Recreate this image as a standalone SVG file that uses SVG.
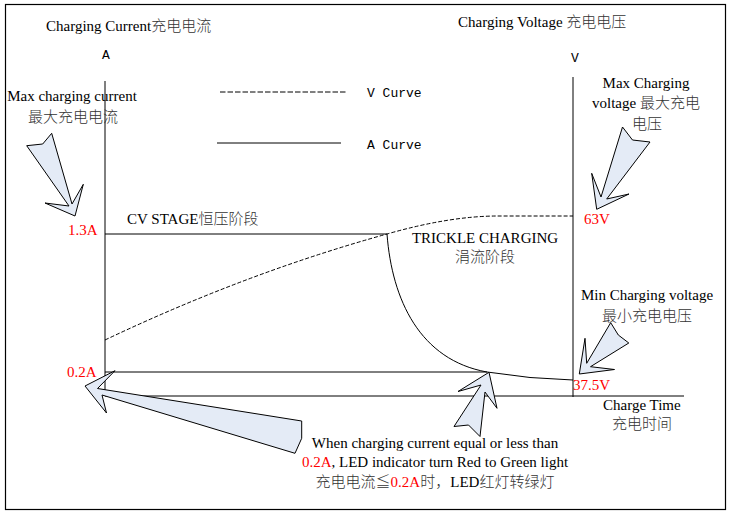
<svg xmlns="http://www.w3.org/2000/svg" width="733" height="514" viewBox="0 0 733 514">
<style>
.t{font-family:"Liberation Serif","Noto Sans CJK SC",serif;font-size:15px;fill:#000}
.c{font-family:"Noto Sans CJK SC",sans-serif;font-weight:300;fill:#333}
.r{fill:#FF0000}
.m{font-family:"Liberation Mono","DejaVu Sans Mono",monospace;font-size:13px;fill:#000}
.ax{stroke:#000;stroke-width:1;fill:none}
.dash{stroke:#000;stroke-width:1;fill:none;stroke-dasharray:4,2}
.call{fill:#E4EBF6;stroke:#000;stroke-width:1;stroke-linejoin:miter}
</style>
<rect x="0" y="0" width="733" height="514" fill="#fff"/>
<rect x="5.5" y="4.5" width="720" height="505" fill="none" stroke="#000" stroke-width="1.2"/>

<g id="axes">
<line class="ax" x1="105" y1="81" x2="105" y2="396"/>
<line class="ax" x1="573" y1="77" x2="573" y2="397"/>
<line class="ax" x1="105" y1="396" x2="684" y2="396"/>
<text class="m" x="102" y="59">A</text>
<text class="m" x="571" y="62">V</text>
<text class="t" x="46" y="31">Charging Current<tspan class="c">充电电流</tspan></text>
<text class="t" x="458" y="27">Charging Voltage <tspan class="c">充电电压</tspan></text>
<text class="t" x="603" y="410">Charge Time</text>
<text class="t c" x="642" y="429" text-anchor="middle">充电时间</text>
</g>

<g id="legend">
<line class="ax" x1="220" y1="92" x2="347" y2="92" stroke-dasharray="5.5,2"/>
<text class="m" x="367" y="97">V Curve</text>
<line class="ax" x1="217" y1="143" x2="341" y2="143"/>
<text class="m" x="367" y="149">A Curve</text>
</g>

<g id="v-curve">
<path class="dash" d="M105,340 Q246,273 387,234 Q450,216 498,216 L573,216" stroke-dasharray="3,1.5"/>
</g>

<g id="a-curve">
<path class="ax" d="M105,234 L387,234 C392,300 420,360 487,372 Q530,379 573,380"/>
<line class="ax" x1="105" y1="372" x2="487" y2="372"/>
</g>

<g id="labels">
<text class="t r" x="68" y="235">1.3A</text>
<text class="t r" x="67" y="377">0.2A</text>
<text class="t r" x="584" y="224">63V</text>
<text class="t r" x="573" y="390">37.5V</text>
<text class="t" x="127" y="224">CV STAGE<tspan class="c">恒压阶段</tspan></text>
<text class="t" x="485" y="243" text-anchor="middle">TRICKLE CHARGING</text>
<text class="t c" x="485" y="262" text-anchor="middle">涓流阶段</text>
</g>

<g id="note-max-current">
<text class="t" x="72" y="101" text-anchor="middle">Max charging current</text>
<text class="t c" x="73" y="122" text-anchor="middle">最大充电电流</text>
</g>

<g id="note-max-voltage">
<text class="t" x="646" y="88" text-anchor="middle">Max Charging</text>
<text class="t" x="646" y="108" text-anchor="middle">voltage <tspan class="c">最大充电</tspan></text>
<text class="t c" x="647" y="129" text-anchor="middle">电压</text>
</g>

<g id="note-min-voltage">
<text class="t" x="647" y="300" text-anchor="middle">Min Charging voltage</text>
<text class="t c" x="647" y="321" text-anchor="middle">最小充电电压</text>
</g>

<g id="note-led">
<text class="t" x="435" y="448" text-anchor="middle">When charging current equal or less than</text>
<text class="t" x="435" y="467" text-anchor="middle"><tspan class="r">0.2A</tspan>, LED indicator turn Red to Green light</text>
<text class="t" x="435" y="487" text-anchor="middle"><tspan class="c">充电电流≦</tspan><tspan class="r">0.2A</tspan><tspan class="c">时，</tspan>LED<tspan class="c">红灯转绿灯</tspan></text>
</g>

<g id="connectors">
<polygon class="call" points="51.7,133.3 72,204 83.3,184.3 75,216 45,203 69,206 26.7,145.7 42.7,144"/>
<polygon class="call" points="622.5,127 601,197 591.7,173.3 596.7,209.3 629,194 606.7,199 650,142 632.5,140"/>
<polygon class="call" points="610.7,322.7 586.7,363.3 585,338.3 579.3,374 614.5,369.5 590.5,366.7 628.8,343 618.3,335"/>
<polygon class="call" points="489,372.3 497,408.3 485,392 480,436.5 468.5,425 454,426.5 481,385 458,391.5"/>
<polygon class="call" points="85,386 115,370.7 97.5,388.5 301.7,421 301.7,438.3 295,453.3 102,395 106.5,413"/>
</g>
</svg>
